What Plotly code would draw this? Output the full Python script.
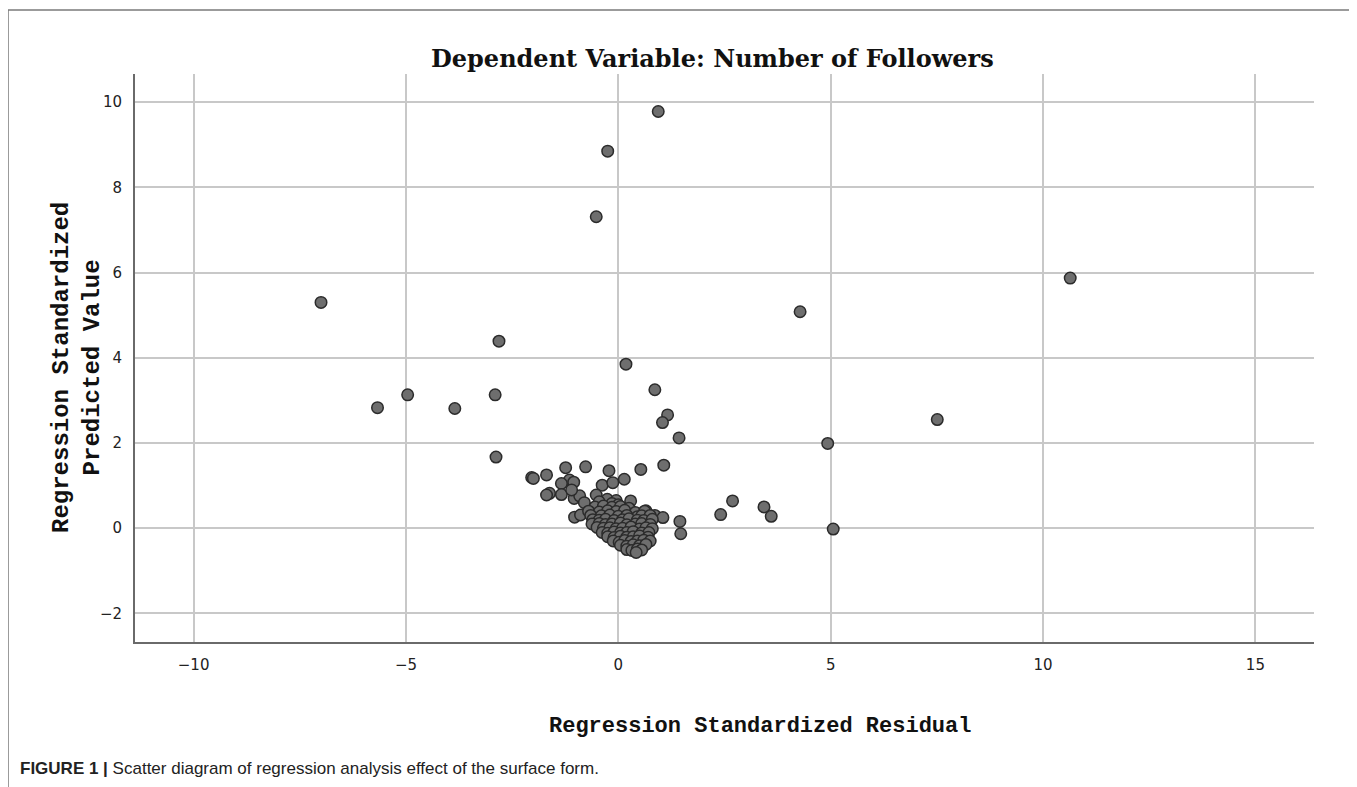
import plotly.graph_objects as go

# Outlying points (standardized residual, standardized predicted value)
outlier_x = [0.94, -0.25, -0.52, 4.28, -7.00, -2.81, -4.96, -5.67, -3.85, -2.90, -2.88,
             0.18, 0.86, 1.16, 1.04, 1.43, 4.93, 7.51, 10.64, 5.06, 2.41, 2.69, 3.43,
             3.60, 1.45, 1.47]
outlier_y = [9.78, 8.85, 7.31, 5.08, 5.30, 4.39, 3.13, 2.83, 2.81, 3.13, 1.67,
             3.85, 3.25, 2.66, 2.48, 2.12, 1.99, 2.55, 5.87, -0.02, 0.32, 0.64, 0.50,
             0.28, 0.16, -0.13]

# Upper part of the main cluster
upper_x = [-2.04, -2.00, -1.69, -1.24, -0.77, -0.22, 0.14, 0.53, 1.07, -1.15, -1.34,
           -1.05, -1.62, -1.69, -1.34, -1.04, -0.91, -0.38, -0.13, -0.52, -0.26, -0.05,
           0.29, -1.03, -0.89, 0.65, 0.86, 1.05, -0.68, -0.47, -0.26, -0.04, -0.45,
           -0.15, 0.00, 0.35, -1.10, -0.80]
upper_y = [1.19, 1.17, 1.25, 1.42, 1.44, 1.35, 1.15, 1.38, 1.48, 1.13, 1.05,
           1.08, 0.82, 0.78, 0.79, 0.70, 0.76, 1.01, 1.07, 0.78, 0.68, 0.65,
           0.64, 0.26, 0.31, 0.41, 0.30, 0.25, 0.42, 0.50, 0.46, 0.48, 0.62,
           0.58, 0.55, 0.31, 0.90, 0.60]

# Dense band of the main cluster
band_x = [-0.55, -0.35, -0.15, 0.05, 0.25,
          -0.70, -0.45, -0.25, -0.05, 0.15, 0.40, 0.62,
          -0.65, -0.40, -0.20, 0.00, 0.20, 0.45, 0.55, 0.75,
          -0.60, -0.45, -0.30, -0.10, 0.10, 0.25, 0.45, 0.60, 0.80,
          -0.62, -0.45, -0.30, -0.15, 0.05, 0.20, 0.40, 0.55, 0.75,
          -0.50, -0.35, -0.20, -0.05, 0.10, 0.30, 0.50, 0.65, 0.80,
          -0.38, -0.25, -0.10, 0.05, 0.20, 0.35, 0.55, 0.72,
          -0.25, -0.10, 0.05, 0.20, 0.35, 0.50, 0.70,
          -0.12, 0.02, 0.15, 0.30, 0.45, 0.60, 0.75,
          0.05, 0.20, 0.35, 0.50, 0.65,
          0.20, 0.32, 0.45, 0.55,
          0.42]
band_y = [0.50, 0.52, 0.49, 0.51, 0.47,
          0.40, 0.38, 0.41, 0.39, 0.42, 0.37, 0.40,
          0.30, 0.29, 0.31, 0.28, 0.30, 0.27, 0.29, 0.30,
          0.20, 0.19, 0.21, 0.18, 0.20, 0.22, 0.19, 0.18, 0.21,
          0.10, 0.11, 0.09, 0.10, 0.12, 0.08, 0.10, 0.11, 0.09,
          0.02, 0.00, 0.01, -0.01, 0.00, 0.03, -0.02, 0.01, -0.01,
          -0.10, -0.12, -0.09, -0.11, -0.10, -0.08, -0.11, -0.10,
          -0.20, -0.22, -0.19, -0.21, -0.20, -0.18, -0.21,
          -0.30, -0.33, -0.29, -0.31, -0.30, -0.28, -0.30,
          -0.40, -0.42, -0.39, -0.41, -0.38,
          -0.50, -0.52, -0.49, -0.51,
          -0.57]

x_values = outlier_x + upper_x + band_x
y_values = outlier_y + upper_y + band_y

x_ticks = [-10, -5, 0, 5, 10, 15]
y_ticks = [-2, 0, 2, 4, 6, 8, 10]

title_text = "Dependent Variable: Number of Followers"
x_title = "Regression Standardized Residual"
y_title = "Regression Standardized<br>Predicted Value"
caption = "<b>FIGURE 1 |</b> Scatter diagram of regression analysis effect of the surface form."

fig = go.Figure()
fig.add_trace(go.Scatter(
    x=x_values, y=y_values, mode="markers",
    marker=dict(size=11.5, color="#6e6e6e", line=dict(color="#2b2b2b", width=1.5)),
    showlegend=False, hoverinfo="x+y",
))

OFF = 8  # page body margin
W, H = 1357 - OFF, 787 - OFF
# plot area in screen pixels: x 135..1314, y 74..642
L = 135 - OFF
R = W - (1314 - OFF)
T = 74 - OFF
B = H - (642 - OFF)
pw, ph = W - L - R, H - T - B

def px(xs):
    return (xs - 135) / pw

def py(ys):
    return (642 - ys) / ph

fig.update_layout(
    width=W, height=H,
    margin=dict(l=L, r=R, t=T, b=B),
    paper_bgcolor="white", plot_bgcolor="white",
    xaxis=dict(range=[-11.38, 16.38], tickvals=x_ticks, showgrid=True,
               gridcolor="#c8c8c8", gridwidth=1.5, zeroline=False,
               showline=True, linecolor="#6a6a6a", linewidth=2, ticks="",
               tickfont=dict(family="DejaVu Sans", size=15, color="#222"),
               ticklabelstandoff=8, fixedrange=True),
    yaxis=dict(range=[-2.67, 10.66], tickvals=y_ticks, showgrid=True,
               gridcolor="#c8c8c8", gridwidth=1.5, zeroline=False,
               showline=True, linecolor="#6a6a6a", linewidth=2, ticks="",
               tickfont=dict(family="DejaVu Sans", size=15, color="#222"),
               ticklabelstandoff=8, fixedrange=True),
)

fig.add_annotation(text="<b>" + title_text + "</b>", xref="paper", yref="paper",
                   x=px(712), y=py(58), xanchor="center", yanchor="middle",
                   showarrow=False,
                   font=dict(family="DejaVu Serif", size=24, color="#111"))
fig.add_annotation(text="<b>" + x_title + "</b>", xref="paper", yref="paper",
                   x=px(760), y=py(726), xanchor="center", yanchor="middle",
                   showarrow=False,
                   font=dict(family="Liberation Mono", size=22, color="#111"))
fig.add_annotation(text="<b>" + y_title + "</b>", xref="paper", yref="paper",
                   x=px(77), y=py(368), xanchor="center", yanchor="middle",
                   textangle=-90, showarrow=False,
                   font=dict(family="Liberation Mono", size=24, color="#111"))
fig.add_annotation(text=caption, xref="paper", yref="paper",
                   x=px(18), y=py(768), xanchor="left", yanchor="middle",
                   showarrow=False, align="left",
                   font=dict(family="Liberation Sans", size=17, color="#222"))

# outer figure frame (left, top, right)
frame_color = "#7a7a7a"
fig.add_shape(type="line", xref="paper", yref="paper", x0=px(8), x1=px(8),
              y0=py(10), y1=py(800), line=dict(color=frame_color, width=1.5))
fig.add_shape(type="line", xref="paper", yref="paper", x0=px(8), x1=px(1355),
              y0=py(10), y1=py(10), line=dict(color=frame_color, width=1.5))
fig.add_shape(type="line", xref="paper", yref="paper", x0=px(1355), x1=px(1355),
              y0=py(10), y1=py(800), line=dict(color=frame_color, width=1.5))

fig.write_html("out.html")
